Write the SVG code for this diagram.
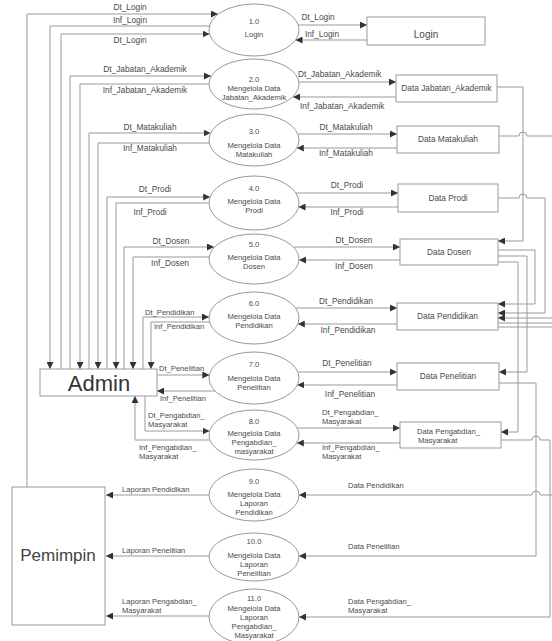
<svg xmlns="http://www.w3.org/2000/svg" width="552" height="641" viewBox="0 0 552 641">
<defs>
<style>
text{font-family:"Liberation Sans",Arial,sans-serif;font-size:8.3px;fill:#4a4a4a}
.c{text-anchor:middle}
.s{font-size:7.6px}
.ln{fill:none;stroke:#999;stroke-width:1}
.box{fill:#fff;stroke:#999;stroke-width:1}
.el{fill:#fff;stroke:#999;stroke-width:1}
</style>
<marker id="a" markerWidth="7" markerHeight="7" refX="7" refY="3.5" orient="auto" markerUnits="userSpaceOnUse"><path d="M0,0 L7,3.5 L0,7 z" fill="#333"/></marker>
</defs>
<rect width="552" height="641" fill="#fff"/>

<g id="connectors">
<path class="ln" marker-end="url(#a)" d="M27,487 V14 H218"/>
<path class="ln" marker-end="url(#a)" d="M209.5,26 H50 V369"/>
<path class="ln" marker-end="url(#a)" d="M61,369 V34 H209.5"/>
<path class="ln" marker-end="url(#a)" d="M70,369 V76 H211"/>
<path class="ln" marker-end="url(#a)" d="M209,84 H80 V369"/>
<path class="ln" marker-end="url(#a)" d="M89,369 V133 H210.5"/>
<path class="ln" marker-end="url(#a)" d="M209.2,143 H98 V369"/>
<path class="ln" marker-end="url(#a)" d="M107,369 V197 H210.2"/>
<path class="ln" marker-end="url(#a)" d="M209,203 H116 V369"/>
<path class="ln" marker-end="url(#a)" d="M124,369 V247 H214"/>
<path class="ln" marker-end="url(#a)" d="M209,257 H133 V369"/>
<path class="ln" marker-end="url(#a)" d="M143,369 V317 H209"/>
<path class="ln" marker-end="url(#a)" d="M209.5,322 H151 V369"/>
<path class="ln" marker-end="url(#a)" d="M157,375 H209.3"/>
<path class="ln" marker-end="url(#a)" d="M215,391 H157"/>
<path class="ln" marker-end="url(#a)" d="M145,396 V431 H209.5"/>
<path class="ln" marker-end="url(#a)" d="M209.5,440 H135 V396"/>
<path class="ln" marker-end="url(#a)" d="M298,25 H367"/>
<path class="ln" marker-end="url(#a)" d="M367,40 H295.5"/>
<path class="ln" marker-end="url(#a)" d="M299,82 H396"/>
<path class="ln" marker-end="url(#a)" d="M396,97 H293"/>
<path class="ln" marker-end="url(#a)" d="M298,134 H397"/>
<path class="ln" marker-end="url(#a)" d="M397,148 H296.8"/>
<path class="ln" marker-end="url(#a)" d="M295.5,193 H398"/>
<path class="ln" marker-end="url(#a)" d="M398,207 H298.5"/>
<path class="ln" marker-end="url(#a)" d="M294,247 H400"/>
<path class="ln" marker-end="url(#a)" d="M400,260 H299"/>
<path class="ln" marker-end="url(#a)" d="M295.5,308 H397"/>
<path class="ln" marker-end="url(#a)" d="M397,324 H297.8"/>
<path class="ln" marker-end="url(#a)" d="M297.8,372 H397"/>
<path class="ln" marker-end="url(#a)" d="M397,385 H297.3"/>
<path class="ln" marker-end="url(#a)" d="M297.3,428 H400"/>
<path class="ln" marker-end="url(#a)" d="M400,443 H296.8"/>
<path class="ln" marker-end="url(#a)" d="M497,87 H523 V241 H498"/>
<path class="ln" d="M499,136 H519 a4,4 0 0 1 8,0 H552"/>
<path class="ln" marker-end="url(#a)" d="M498,198 H519 a4,4 0 0 1 8,0 H545 V313 H498"/>
<path class="ln" marker-end="url(#a)" d="M498,250 H535 V304 H498"/>
<path class="ln" marker-end="url(#a)" d="M498,256 H527 V372 H499"/>
<path class="ln" marker-end="url(#a)" d="M498,262 H518 V432 H501"/>
<path class="ln" marker-end="url(#a)" d="M552,318 H498"/>
<path class="ln" d="M498,323 H552"/>
<path class="ln" d="M498,327 H552"/>
<path class="ln" marker-end="url(#a)" d="M552,495 H540 a4,4 0 0 0 -8,0 H299"/>
<path class="ln" marker-end="url(#a)" d="M499,383 H536 V556 H299"/>
<path class="ln" marker-end="url(#a)" d="M501,440 H532 a4,4 0 0 1 8,0 H550 V617 H299"/>
<path class="ln" marker-end="url(#a)" d="M209,495 H106"/>
<path class="ln" marker-end="url(#a)" d="M209,556 H106"/>
<path class="ln" marker-end="url(#a)" d="M209,616 H106"/>
</g>

<g id="labels">
<text class="c" x="130" y="10">Dt_Login</text>
<text class="c" x="130" y="23">Inf_Login</text>
<text class="c" x="130" y="43">Dt_Login</text>
<text class="c" x="145" y="72">Dt_Jabatan_Akademik</text>
<text class="c" x="145" y="93">Inf_Jabatan_Akademik</text>
<text class="c" x="150" y="130">Dt_Matakuliah</text>
<text class="c" x="150" y="151">Inf_Matakuliah</text>
<text class="c" x="155" y="192">Dt_Prodi</text>
<text class="c" x="150" y="215">Inf_Prodi</text>
<text class="c" x="171" y="244">Dt_Dosen</text>
<text class="c" x="170" y="266">Inf_Dosen</text>
<text class="s" x="145" y="315">Dt_Pendidikan</text>
<text class="s" x="154" y="329">Inf_Pendidikan</text>
<text class="s" x="159" y="371">Dt_Penelitian</text>
<text class="s" x="160" y="401">Inf_Penelitian</text>
<text class="s" x="148" y="418">Dt_Pengabdian_</text>
<text class="s" x="148" y="427">Masyarakat</text>
<text class="s" x="139" y="450">Inf_Pengabdian_</text>
<text class="s" x="139" y="459">Masyarakat</text>

<text class="c" x="318" y="20">Dt_Login</text>
<text class="c" x="322" y="37">Inf_Login</text>
<text x="298" y="77">Dt_Jabatan_Akademik</text>
<text x="300" y="109">Inf_Jabatan_Akademik</text>
<text class="c" x="346" y="130">Dt_Matakuliah</text>
<text class="c" x="346" y="156">Inf_Matakuliah</text>
<text class="c" x="347" y="188">Dt_Prodi</text>
<text class="c" x="347" y="215">Inf_Prodi</text>
<text class="c" x="354" y="243">Dt_Dosen</text>
<text class="c" x="354" y="269">Inf_Dosen</text>
<text class="c" x="346" y="304">Dt_Pendidikan</text>
<text class="c" x="348" y="333">Inf_Pendidikan</text>
<text class="c" x="347" y="366">Dt_Penelitian</text>
<text class="c" x="350" y="397">Inf_Penelitian</text>
<text class="s" x="322" y="415">Dt_Pengabdian_</text>
<text class="s" x="322" y="424">Masyarakat</text>
<text class="s" x="322" y="450">Inf_Pengabdian_</text>
<text class="s" x="322" y="459">Masyarakat</text>

<text class="s" x="348" y="488">Data Pendidikan</text>
<text class="s" x="348" y="549">Data Penelitian</text>
<text class="s" x="348" y="604">Data Pengabdian_</text>
<text class="s" x="348" y="613">Masyarakat</text>

<text class="s" x="122" y="492">Laporan Pendidikan</text>
<text class="s" x="122" y="553">Laporan Penelitian</text>
<text class="s" x="122" y="604">Laporan Pengabdian_</text>
<text class="s" x="122" y="613">Masyarakat</text>
</g>

<g id="admin">
<rect class="box" x="40" y="369" width="117" height="27"/>
<text class="c" x="99" y="391" style="font-size:22px;fill:#333">Admin</text>
</g>
<g id="pemimpin">
<rect class="box" x="12" y="487" width="93" height="138"/>
<text class="c" x="58" y="561" style="font-size:17px;fill:#444">Pemimpin</text>
</g>

<g id="p1"><ellipse class="el" cx="254" cy="30" rx="45" ry="26"/><text class="c s" x="254" y="24">1.0</text><text class="c s" x="254" y="37">Login</text></g>
<g id="p2"><ellipse class="el" cx="254" cy="84" rx="45" ry="25"/><text class="c s" x="254" y="82">2.0</text><text class="c s" x="254" y="91">Mengelola Data</text><text class="c s" x="254" y="100">Jabatan_Akademik</text></g>
<g id="p3"><ellipse class="el" cx="254" cy="140" rx="45" ry="26"/><text class="c s" x="254" y="134">3.0</text><text class="c s" x="254" y="148">Mengelola Data</text><text class="c s" x="254" y="157">Matakuliah</text></g>
<g id="p4"><ellipse class="el" cx="254" cy="203" rx="45" ry="27"/><text class="c s" x="254" y="191">4.0</text><text class="c s" x="254" y="204">Mengelola Data</text><text class="c s" x="254" y="213">Prodi</text></g>
<g id="p5"><ellipse class="el" cx="254" cy="259" rx="45" ry="25"/><text class="c s" x="254" y="247">5.0</text><text class="c s" x="254" y="260">Mengelola Data</text><text class="c s" x="254" y="269">Dosen</text></g>
<g id="p6"><ellipse class="el" cx="254" cy="318" rx="45" ry="26"/><text class="c s" x="254" y="306">6.0</text><text class="c s" x="254" y="319">Mengelola Data</text><text class="c s" x="254" y="328">Pendidikan</text></g>
<g id="p7"><ellipse class="el" cx="254" cy="378" rx="45" ry="26"/><text class="c s" x="254" y="367">7.0</text><text class="c s" x="254" y="381">Mengelola Data</text><text class="c s" x="254" y="390">Penelitian</text></g>
<g id="p8"><ellipse class="el" cx="254" cy="435" rx="45" ry="25"/><text class="c s" x="254" y="424">8.0</text><text class="c s" x="254" y="436">Mengelola Data</text><text class="c s" x="254" y="445">Pengabdian_</text><text class="c s" x="254" y="454">masyarakat</text></g>
<g id="p9"><ellipse class="el" cx="254" cy="495" rx="45" ry="26"/><text class="c s" x="254" y="484">9.0</text><text class="c s" x="254" y="497">Mengelola Data</text><text class="c s" x="254" y="506">Laporan</text><text class="c s" x="254" y="515">Pendidikan</text></g>
<g id="p10"><ellipse class="el" cx="254" cy="557" rx="45" ry="24"/><text class="c s" x="254" y="544">10.0</text><text class="c s" x="254" y="558">Mengelola Data</text><text class="c s" x="254" y="567">Laporan</text><text class="c s" x="254" y="576">Penelitian</text></g>
<g id="p11"><ellipse class="el" cx="254" cy="617" rx="45" ry="28"/><text class="c s" x="254" y="601">11.0</text><text class="c s" x="254" y="611">Mengelola Data</text><text class="c s" x="254" y="620">Laporan</text><text class="c s" x="254" y="629">Pengabdian_</text><text class="c s" x="254" y="638">Masyarakat</text></g>

<g id="s-login"><rect class="box" x="367" y="17" width="118" height="28"/><text class="c" x="426" y="38" style="font-size:10px">Login</text></g>
<g id="s-jabatan"><rect class="box" x="396" y="75" width="101" height="27"/><text class="c" x="446.5" y="91">Data Jabatan_Akademik</text></g>
<g id="s-matakuliah"><rect class="box" x="397" y="126" width="102" height="27"/><text class="c" x="448" y="142">Data Matakuliah</text></g>
<g id="s-prodi"><rect class="box" x="398" y="184" width="100" height="28"/><text class="c" x="448" y="201">Data Prodi</text></g>
<g id="s-dosen"><rect class="box" x="400" y="239" width="98" height="26"/><text class="c" x="449" y="255">Data Dosen</text></g>
<g id="s-pendidikan"><rect class="box" x="397" y="303" width="101" height="27"/><text class="c" x="447.5" y="319">Data Pendidikan</text></g>
<g id="s-penelitian"><rect class="box" x="397" y="363" width="102" height="27"/><text class="c" x="448" y="379">Data Penelitian</text></g>
<g id="s-pengabdian"><rect class="box" x="400" y="422" width="101" height="26"/><text class="s" x="417" y="434">Data Pengabdian_</text><text class="s" x="418" y="443">Masyarakat</text></g>
</svg>
